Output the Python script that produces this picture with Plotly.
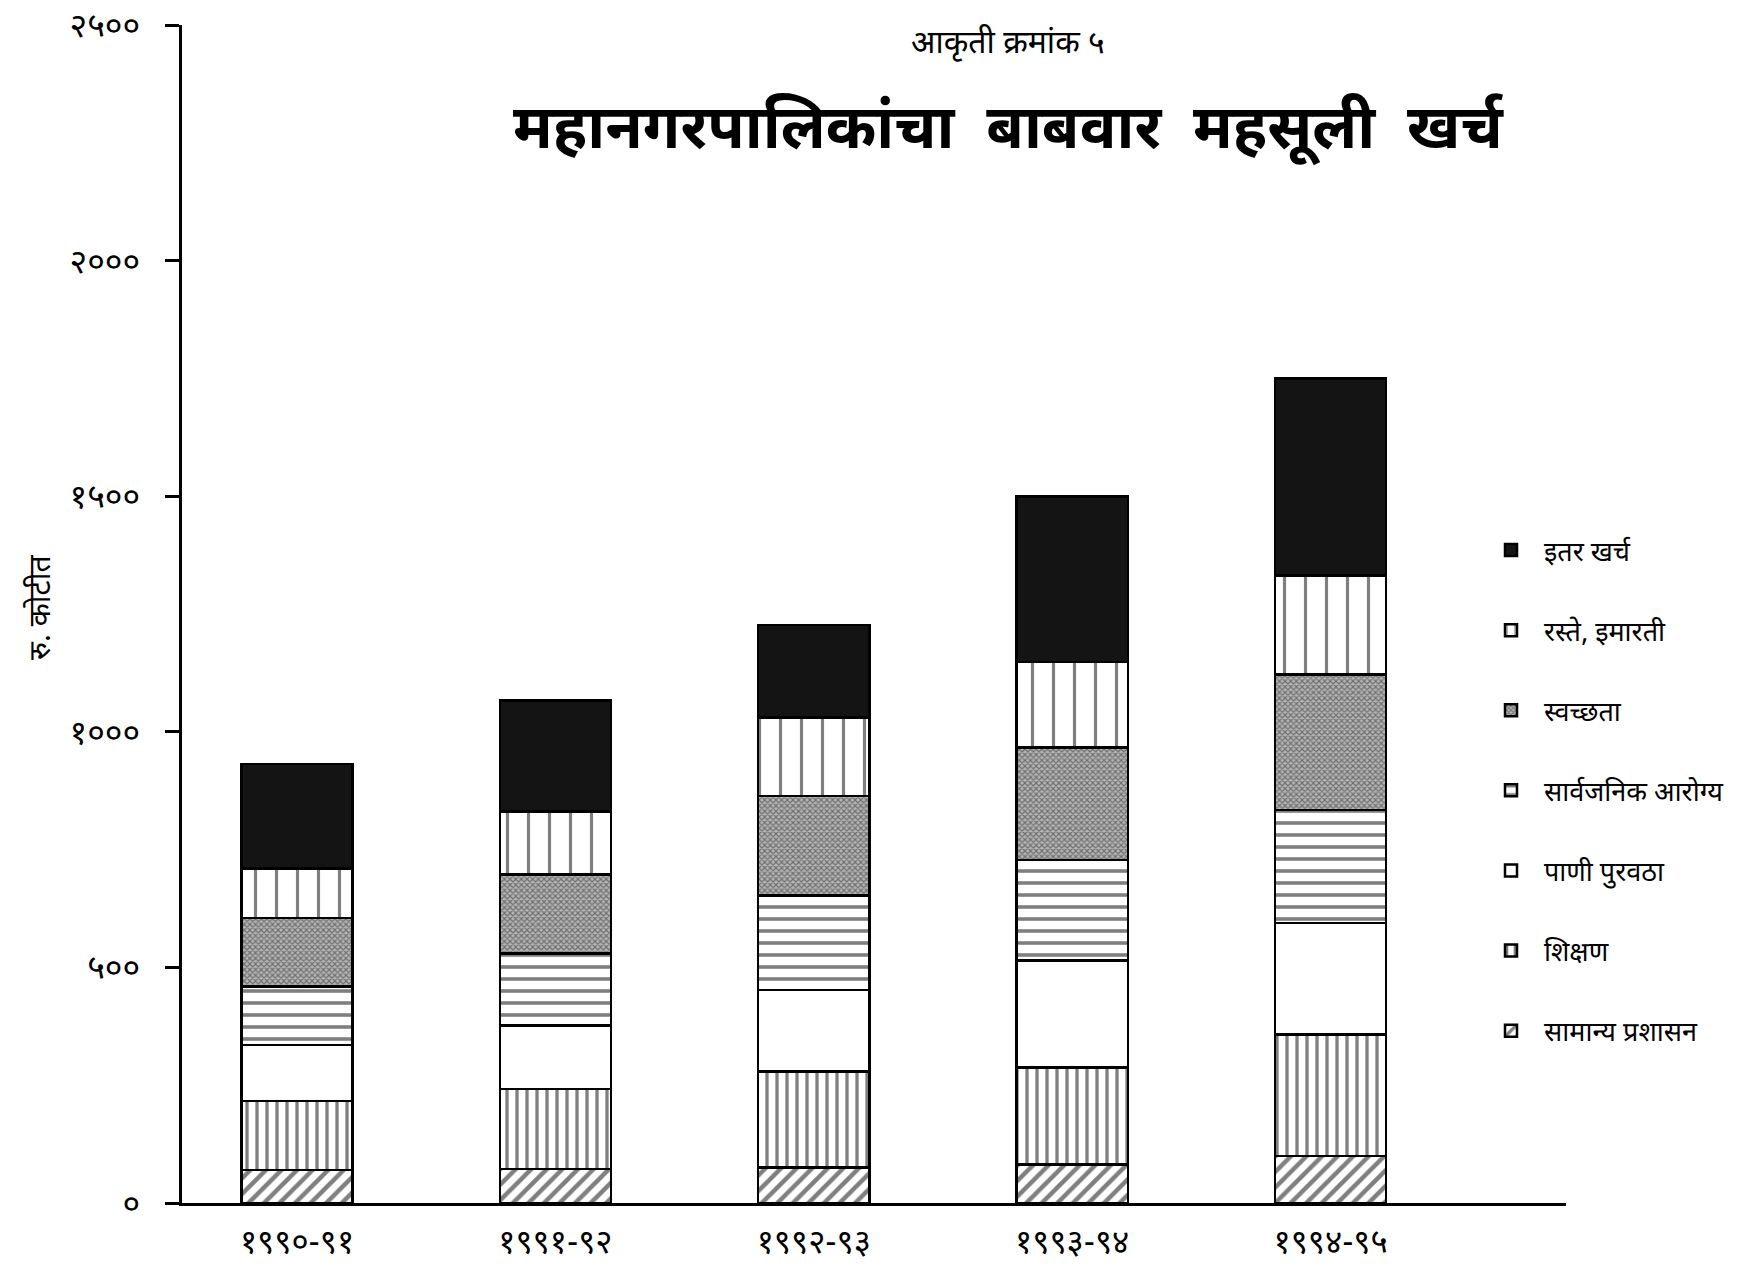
import plotly.graph_objects as go

years = ["१९९०-९१", "१९९१-९२", "१९९२-९३", "१९९३-९४", "१९९४-९५"]

samanya_prashasan = [70, 72, 75, 82, 100]
shikshan = [147, 170, 204, 206, 258]
pani_puravatha = [118, 135, 173, 227, 236]
sarvajanik_arogya = [125, 153, 201, 213, 240]
swachhata = [145, 167, 211, 239, 288]
raste_imarati = [105, 134, 166, 181, 210]
itar_kharch = [222, 235, 197, 351, 418]

series_names = ["सामान्य प्रशासन", "शिक्षण", "पाणी पुरवठा", "सार्वजनिक आरोग्य",
                "स्वच्छता", "रस्ते, इमारती", "इतर खर्च"]

y_ticks = [0, 500, 1000, 1500, 2000, 2500]
y_tick_labels = ["०", "५००", "१०००", "१५००", "२०००", "२५००"]

FONT = "Noto Sans Devanagari, Noto Sans, Lohit Devanagari, sans-serif"

styles = [
    dict(color="white", pattern=dict(shape="/", size=11, solidity=0.4, fgcolor="black", bgcolor="white")),
    dict(color="white", pattern=dict(shape="|", size=10, solidity=0.33, fgcolor="black", bgcolor="white")),
    dict(color="white"),
    dict(color="white", pattern=dict(shape="-", size=12, solidity=0.3, fgcolor="black", bgcolor="white")),
    dict(color="#999999", pattern=dict(shape="x", size=4, solidity=0.5, fgcolor="#2a2a2a", bgcolor="#b5b5b5")),
    dict(color="white", pattern=dict(shape="|", size=21, solidity=0.15, fgcolor="black", bgcolor="white")),
    dict(color="#141414"),
]

data = [samanya_prashasan, shikshan, pani_puravatha, sarvajanik_arogya,
        swachhata, raste_imarati, itar_kharch]

W, H = 1748, 1267
pl, pr, pt, pb = 174, 190, 17, 72
pw, ph = W - pl - pr, H - pt - pb

fig = go.Figure()
n = len(series_names)
for i, (name, vals, st) in enumerate(zip(series_names, data, styles)):
    marker = dict(color=st["color"], line=dict(color="black", width=2.5))
    if "pattern" in st:
        marker["pattern"] = st["pattern"]
    fig.add_trace(go.Bar(x=years, y=vals, name=name, marker=marker,
                         width=0.43, legendgroup=name, legendrank=n - i))


def px2paper(x, y):
    return (x - pl) / pw, (H - pb - y) / ph


ann_specs = [
    ("आकृती क्रमांक ५", 1000, 37, 32, 0),
    ("<b>महानगरपालिकांचा  बाबवार  महसूली  खर्च</b>", 1000, 125, 61, 0),
    ("रु. कोटीत", 34, 600, 30, -90),
]
annotations = []
for text, x, y, size, ang in ann_specs:
    xp, yp = px2paper(x, y)
    annotations.append(dict(text=text, x=xp, y=yp, xref="paper", yref="paper",
                            xanchor="center", yanchor="middle", showarrow=False,
                            textangle=ang, font=dict(size=size, family=FONT, color="black")))

lx, ly = px2paper(1470, 518)

fig.update_layout(
    width=W, height=H,
    barmode="stack",
    paper_bgcolor="white", plot_bgcolor="white",
    margin=dict(l=pl, r=pr, t=pt, b=pb, autoexpand=False),
    font=dict(family=FONT, color="black", size=22),
    showlegend=True,
    legend=dict(
        x=lx, y=ly, xanchor="left", yanchor="top",
        traceorder="grouped", tracegroupgap=42, itemwidth=56,
        font=dict(size=27, family=FONT),
        bgcolor="rgba(0,0,0,0)",
    ),
    annotations=annotations,
)

fig.update_xaxes(
    range=[-0.445, 4.911], showline=True, linecolor="black", linewidth=2.5,
    ticks="", tickfont=dict(size=33, family=FONT), showgrid=False, zeroline=False,
    ticklabelstandoff=8, automargin=False,
)
fig.update_yaxes(
    range=[0, 2500], tickvals=y_ticks, ticktext=y_tick_labels,
    showline=True, linecolor="black", linewidth=3, ticks="outside", ticklen=14,
    tickwidth=2.5, tickcolor="black", showgrid=False, zeroline=False,
    tickfont=dict(size=34, family=FONT), ticklabelstandoff=18,
    ticklabeloverflow="allow", automargin=False,
)

fig.write_html("out.html")
